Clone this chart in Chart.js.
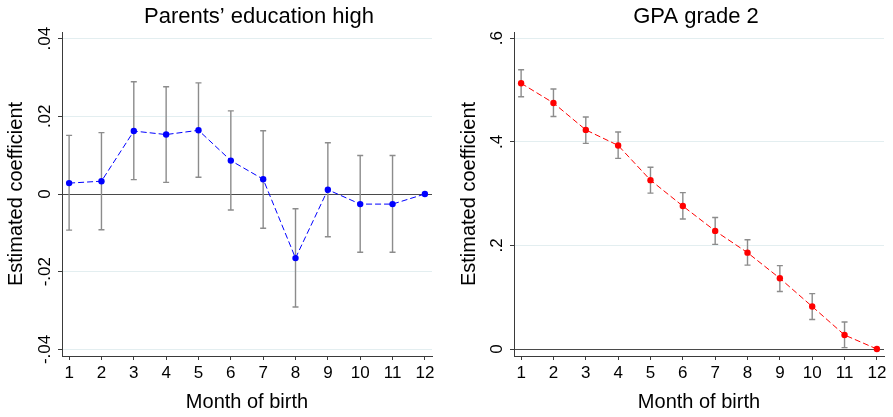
<!DOCTYPE html>
<html>
<head>
<meta charset="utf-8">
<script src="https://cdn.jsdelivr.net/npm/chart.js@4/dist/chart.umd.min.js"></script>
<style>
  html,body{margin:0;padding:0;background:#fff;}
  body{width:893px;height:417px;overflow:hidden;position:relative;}
  canvas{position:absolute;top:0;}
  #chartLeft{left:0;}
  #chartRight{left:453px;}
</style>
</head>
<body>
<canvas id="chartLeft" width="518" height="417"></canvas>
<canvas id="chartRight" width="486" height="417"></canvas>
<script>
// month of birth on the x axis
const months=[1,2,3,4,5,6,7,8,9,10,11,12];
const xTicks=[1,2,3,4,5,6,7,8,9,10,11,12];

// Parents' education high
const parentsCoef=[0.0028,0.0033,0.0162,0.0153,0.0164,0.0086,0.0038,-0.0165,0.0011,-0.0026,-0.0026,0];
const parentsLow =[-0.0093,-0.0092,0.0037,0.0030,0.0043,-0.0041,-0.0088,-0.0291,-0.0110,-0.0150,-0.0150,null];
const parentsHigh=[0.0151,0.0158,0.0289,0.0276,0.0286,0.0214,0.0163,-0.0038,0.0132,0.0099,0.0099,null];
const parentsTicks=[-0.04,-0.02,0,0.02,0.04];
const parentsTickLabels=['-.04','-.02','0','.02','.04'];

// GPA grade 2
const gpaCoef=[0.513,0.475,0.423,0.393,0.326,0.276,0.228,0.186,0.1365,0.082,0.027,0];
const gpaLow =[0.487,0.449,0.397,0.368,0.301,0.251,0.202,0.162,0.111,0.057,0.0026,null];
const gpaHigh=[0.539,0.502,0.448,0.419,0.351,0.302,0.254,0.211,0.161,0.107,0.052,null];
const gpaTicks=[0,0.2,0.4,0.6];
const gpaTickLabels=['0','.2','.4','.6'];

const FONT='"Liberation Sans", Arial, Helvetica, sans-serif';
const AXIS='#3a3a3a';
const GRID='#e3eef0';

// ── 信頼区間（rcap）を描くプラグイン ──
const errorBars={
  id:'errorBars',
  beforeDatasetsDraw(chart,args,opts){
    const {ctx,scales:{x,y}}=chart;
    ctx.save();
    ctx.strokeStyle=opts.color;
    ctx.lineWidth=opts.width;
    opts.lower.forEach((lo,i)=>{
      const hi=opts.upper[i];
      if(lo==null||hi==null)return;
      const px=x.getPixelForValue(months[i]);
      const y1=y.getPixelForValue(lo),y2=y.getPixelForValue(hi);
      ctx.beginPath();
      ctx.moveTo(px,y1);ctx.lineTo(px,y2);
      ctx.moveTo(px-opts.cap,y1);ctx.lineTo(px+opts.cap,y1);
      ctx.moveTo(px-opts.cap,y2);ctx.lineTo(px+opts.cap,y2);
      ctx.stroke();
    });
    ctx.restore();
  }
};

function makeChart(id,cfg){
  return new Chart(document.getElementById(id),{
    type:'line',
    plugins:[errorBars],
    data:{
      datasets:[{
        data:months.map((m,i)=>({x:m,y:cfg.coef[i]})),
        borderColor:cfg.color,
        backgroundColor:cfg.color,
        borderWidth:1,
        borderDash:[6,3],
        pointRadius:3.2,
        pointBorderWidth:0,
        pointBackgroundColor:cfg.color,
        tension:0,
      }]
    },
    options:{
      responsive:false,
      animation:false,
      events:[],
      layout:{padding:{left:0,right:0,top:0,bottom:3}},
      plugins:{
        legend:{display:false},
        tooltip:{enabled:false},
        title:{display:true,text:cfg.title,color:'#000',
          font:{family:FONT,size:22,weight:'normal'},padding:{top:4,bottom:1.6}},
        errorBars:{lower:cfg.low,upper:cfg.high,color:'#8c8c8c',width:1.4,cap:3},
      },
      scales:{
        x:{
          type:'linear',min:0.78,max:12.22,
          afterBuildTicks:s=>{s.ticks=xTicks.map(v=>({value:v}));},
          afterFit:s=>{s.height=58;},
          border:{display:true,color:AXIS,width:1},
          grid:{drawOnChartArea:false,drawTicks:true,tickLength:4,tickColor:AXIS},
          ticks:{color:'#000',font:{family:FONT,size:17},padding:3,autoSkip:false,maxRotation:0,
            callback:v=>String(v)},
          title:{display:true,text:'Month of birth',color:'#000',
            font:{family:FONT,size:20},padding:{top:0,bottom:0}},
        },
        y:{
          type:'linear',min:cfg.yMin,max:cfg.yMax,
          afterBuildTicks:s=>{s.ticks=cfg.ticks.map(v=>({value:v}));},
          afterFit:s=>{s.width=cfg.axisWidth;},
          border:{display:true,color:AXIS,width:1},
          grid:{drawOnChartArea:true,drawTicks:true,tickLength:4,
            color:c=>c.tick&&c.tick.value===0?'#4a4a4a':GRID,
            tickColor:AXIS,lineWidth:1},
          ticks:{color:'#000',font:{family:FONT,size:17},padding:cfg.tickPad,autoSkip:false,
            minRotation:90,maxRotation:90,crossAlign:'center',
            callback:(v,i)=>cfg.tickLabels[i]},
          title:{display:true,text:'Estimated coefficient',color:'#000',
            font:{family:FONT,size:20},padding:{top:4,bottom:0}},
        },
        // empty right-hand box: keeps the plot narrow while the title spans the whole canvas
        yRight:{
          type:'linear',position:'right',display:true,
          afterFit:s=>{s.width=cfg.padRight;},
          border:{display:false},
          grid:{display:false,drawTicks:false},
          ticks:{display:false},
        }
      }
    }
  });
}

makeChart('chartLeft',{
  title:'Parents\u2019 education high',
  coef:parentsCoef,low:parentsLow,high:parentsHigh,
  ticks:parentsTicks,tickLabels:parentsTickLabels,
  yMin:-0.0417,yMax:0.0417,
  color:'#0000ff',axisWidth:62,tickPad:-2,padRight:86,
});
makeChart('chartRight',{
  title:'GPA grade 2',
  coef:gpaCoef,low:gpaLow,high:gpaHigh,
  ticks:gpaTicks,tickLabels:gpaTickLabels,
  yMin:-0.0135,yMax:0.612,
  color:'#ff0000',axisWidth:61,tickPad:6,padRight:55,
});
</script>
</body>
</html>
